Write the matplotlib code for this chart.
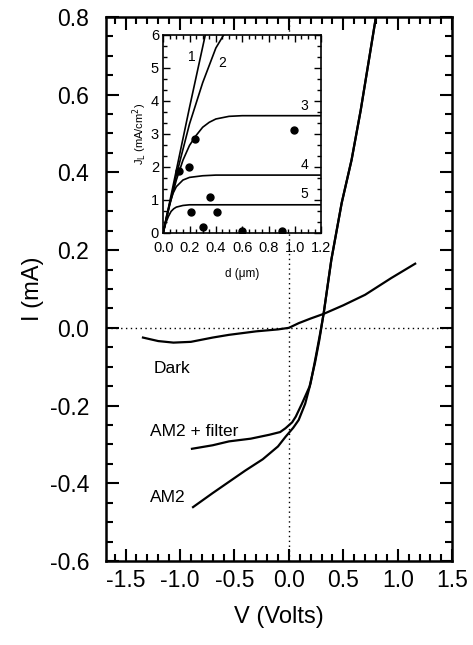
import matplotlib
matplotlib.use("Agg")
import matplotlib.pyplot as plt
from matplotlib.ticker import MultipleLocator, FuncFormatter

plt.rcParams['font.family'] = ['Liberation Sans', 'DejaVu Sans']

# ---- main I-V data ----
dark_v = [-1.34, -1.2, -1.06, -0.9, -0.7, -0.55, -0.3, -0.1, 0.0, 0.09, 0.2, 0.32, 0.5, 0.7, 0.94, 1.16]
dark_i = [-0.025, -0.034, -0.038, -0.036, -0.025, -0.018, -0.009, -0.004, 0.0, 0.012, 0.024, 0.036, 0.058, 0.085, 0.128, 0.165]

filt_v = [-0.89, -0.7, -0.55, -0.35, -0.18, -0.08, -0.03, 0.03, 0.064, 0.12, 0.19, 0.24, 0.28, 0.32, 0.39, 0.485, 0.576, 0.66, 0.8, 0.85]
filt_i = [-0.311, -0.302, -0.292, -0.285, -0.275, -0.268, -0.258, -0.243, -0.228, -0.195, -0.151, -0.09, -0.031, 0.038, 0.175, 0.321, 0.432, 0.56, 0.8, 0.88]

am2_v = [-0.88, -0.7, -0.545, -0.4, -0.24, -0.1, -0.03, 0.04, 0.09, 0.15, 0.2, 0.25, 0.29, 0.32, 0.39, 0.485, 0.576, 0.66, 0.8, 0.85]
am2_i = [-0.461, -0.425, -0.395, -0.367, -0.338, -0.305, -0.28, -0.257, -0.237, -0.195, -0.142, -0.07, -0.01, 0.038, 0.175, 0.321, 0.432, 0.56, 0.8, 0.88]

curve_labels = ["Dark", "AM2 + filter", "AM2"]
label_pos_v = [-1.245, -1.28, -1.28]
label_pos_i = [-0.104, -0.267, -0.436]

# ---- inset data ----
c1_d = [0.0, 0.1, 0.2, 0.32, 0.34]
c1_j = [0.0, 1.9, 3.8, 6.0, 6.4]
c2_d = [0.0, 0.1, 0.2, 0.3, 0.4, 0.46, 0.48]
c2_j = [0.0, 1.75, 3.3, 4.55, 5.6, 6.0, 6.2]
c3_d = [0.0, 0.05, 0.1, 0.15, 0.2, 0.25, 0.3, 0.35, 0.4, 0.5, 0.6, 0.8, 1.2]
c3_j = [0.0, 0.85, 1.6, 2.2, 2.65, 2.95, 3.2, 3.35, 3.45, 3.53, 3.55, 3.55, 3.55]
c4_d = [0.0, 0.025, 0.05, 0.075, 0.1, 0.15, 0.2, 0.3, 0.4, 1.2]
c4_j = [0.0, 0.5, 0.9, 1.2, 1.4, 1.6, 1.68, 1.73, 1.75, 1.75]
c5_d = [0.0, 0.02, 0.04, 0.06, 0.08, 0.1, 0.15, 0.2, 1.2]
c5_j = [0.0, 0.3, 0.5, 0.65, 0.73, 0.78, 0.83, 0.85, 0.85]
pts_d = [0.12, 0.195, 0.24, 0.997, 0.354, 0.215, 0.41, 0.30, 0.595, 0.90]
pts_j = [1.87, 2.0, 2.83, 3.11, 1.08, 0.63, 0.62, 0.19, 0.05, 0.05]
inset_labels = ["1", "2", "3", "4", "5"]
inset_lab_d = [0.22, 0.45, 1.07, 1.07, 1.07]
inset_lab_j = [5.34, 5.16, 3.85, 2.05, 1.17]

fig = plt.figure(figsize=(4.73, 6.45), dpi=100)
ax = fig.add_axes([0.224, 0.130, 0.732, 0.844])

ax.axhline(0, color='black', lw=1.0, ls=(0, (1, 2.5)), zorder=1)
ax.axvline(0, color='black', lw=1.0, ls=(0, (1, 2.5)), zorder=1)
for v, i in [(dark_v, dark_i), (filt_v, filt_i), (am2_v, am2_i)]:
    ax.plot(v, i, color='black', lw=1.6, zorder=2)
for t, x, y in zip(curve_labels, label_pos_v, label_pos_i):
    ax.text(x, y, t, fontsize=12.5, ha='left', va='center')

ax.set_xlim(-1.68, 1.5)
ax.set_ylim(-0.6, 0.8)
ax.xaxis.set_major_locator(MultipleLocator(0.5))
ax.xaxis.set_minor_locator(MultipleLocator(0.1))
ax.yaxis.set_major_locator(MultipleLocator(0.2))
ax.yaxis.set_minor_locator(MultipleLocator(0.05))
ax.xaxis.set_major_formatter(FuncFormatter(lambda x, p: f"{x:.1f}"))
ax.yaxis.set_major_formatter(FuncFormatter(lambda x, p: f"{x:.1f}"))
ax.tick_params(which='both', direction='in', top=True, right=True, width=1.5, labelsize=16.5)
ax.tick_params(which='major', length=9)
ax.tick_params(axis='x', which='major', pad=6)
ax.tick_params(axis='y', which='major', pad=12)
ax.tick_params(which='minor', length=5)
for s in ax.spines.values():
    s.set_linewidth(1.8)
ax.set_xlabel("V (Volts)", fontsize=17, labelpad=10)
ax.set_ylabel("I (mA)", fontsize=17, labelpad=4)

# ---- inset ----
ins = fig.add_axes([0.345, 0.639, 0.334, 0.307])
ins.set_facecolor('white')
for d, j in [(c1_d, c1_j), (c2_d, c2_j), (c3_d, c3_j), (c4_d, c4_j), (c5_d, c5_j)]:
    ins.plot(d, j, color='black', lw=1.2)
ins.plot(pts_d, pts_j, 'o', color='black', ms=5)
for t, x, y in zip(inset_labels, inset_lab_d, inset_lab_j):
    ins.text(x, y, t, fontsize=10, ha='center', va='center')
ins.set_xlim(0, 1.2)
ins.set_ylim(0, 6)
ins.xaxis.set_major_locator(MultipleLocator(0.2))
ins.xaxis.set_minor_locator(MultipleLocator(0.05))
ins.yaxis.set_major_locator(MultipleLocator(1))
ins.yaxis.set_minor_locator(MultipleLocator(1/3))
ins.xaxis.set_major_formatter(FuncFormatter(lambda x, p: f"{x:.1f}"))
ins.yaxis.set_major_formatter(FuncFormatter(lambda x, p: f"{x:.0f}"))
ins.tick_params(which='both', direction='in', top=True, right=True, width=1.0, labelsize=10.5)
ins.tick_params(which='major', length=5)
ins.tick_params(axis='x', which='major', pad=6)
ins.tick_params(axis='y', which='major', pad=3)
ins.tick_params(which='minor', length=3)
for s in ins.spines.values():
    s.set_linewidth(1.2)
ins.set_xlabel("d (\u03bcm)", fontsize=8.5, labelpad=9)
ins.set_ylabel("J$_\\mathrm{L}$ (mA/cm$^\\mathrm{2}$)", fontsize=8, labelpad=1)

fig.savefig("out.png", dpi=100)
